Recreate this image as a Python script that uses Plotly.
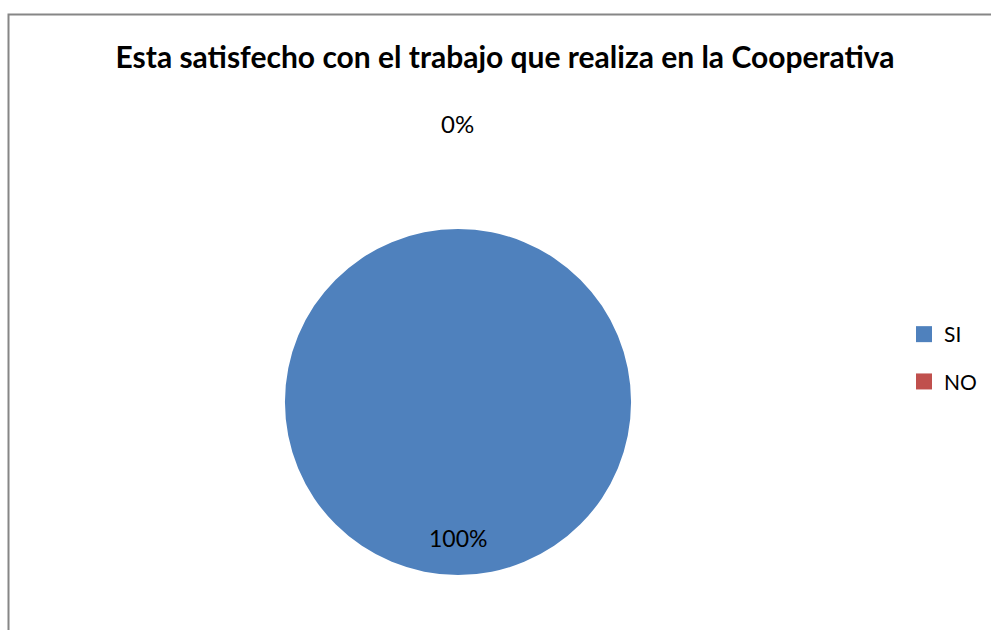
import math
import plotly.graph_objects as go

# Survey answers
categories = ["SI", "NO"]
values = [100, 0]
colors = ["#4F81BD", "#C0504D"]
title_text = "Esta satisfecho con el trabajo que realiza en la Cooperativa"

W, H = 991, 630
FONT = "Lato"

# Pie geometry (paper fractions)
cx, cy, r = 458 / W, (H - 402) / H, 173
dom_x = [cx - r / W, cx + r / W]
dom_y = [cy - r / H, cy + r / H]

fig = go.Figure()
fig.add_trace(go.Pie(
    labels=categories,
    values=values,
    marker=dict(colors=colors, line=dict(width=0)),
    textinfo="none",
    sort=False,
    direction="clockwise",
    rotation=0,
    domain=dict(x=dom_x, y=dom_y),
    hoverinfo="label+percent",
    showlegend=False,
))

# Legend entries with square swatches, one per category
for cat, col in zip(categories, colors):
    fig.add_trace(go.Scatter(
        x=[None], y=[None], mode="markers", name=cat, legendgroup=cat,
        marker=dict(symbol="square", size=16, color=col),
        hoverinfo="skip",
    ))

# Percentage labels placed at each slice's mid-angle
total = sum(values)
start = 0.0
for cat, v in zip(categories, values):
    frac = v / total
    mid = start + frac / 2
    ang = 2 * math.pi * mid  # clockwise from 12 o'clock
    dist = 0.785 * r if frac > 0.5 else 1.61 * r
    px = cx + dist * math.sin(ang) / W
    py = cy + dist * math.cos(ang) / H
    fig.add_annotation(
        x=px, y=py, xref="paper", yref="paper",
        text=f"{round(frac * 100)}%", showarrow=False,
        font=dict(family=FONT, size=23 if frac > 0.5 else 24, color="#000000"),
        xanchor="center", yanchor="middle",
    )
    start += frac

# Chart-area border
fig.add_shape(
    type="rect", xref="paper", yref="paper",
    x0=8.5 / W, x1=1.05, y0=-0.05, y1=(H - 14.5) / H,
    line=dict(color="#868686", width=2), layer="above",
)

fig.update_layout(
    width=W, height=H,
    margin=dict(l=0, r=0, t=0, b=0),
    paper_bgcolor="white",
    plot_bgcolor="white",
    xaxis=dict(visible=False),
    yaxis=dict(visible=False),
    title=dict(
        text=f"<b>{title_text}</b>",
        x=505 / W, xanchor="center",
        y=(H - 57) / H, yanchor="middle",
        font=dict(family=FONT, size=30, color="#000000"),
    ),
    legend=dict(
        x=904 / W, y=(H - 314) / H, xanchor="left", yanchor="top",
        font=dict(family=FONT, size=21, color="#000000"),
        itemwidth=30, bgcolor="rgba(0,0,0,0)",
        tracegroupgap=17,
    ),
    showlegend=True,
)

fig.write_html("out.html")
